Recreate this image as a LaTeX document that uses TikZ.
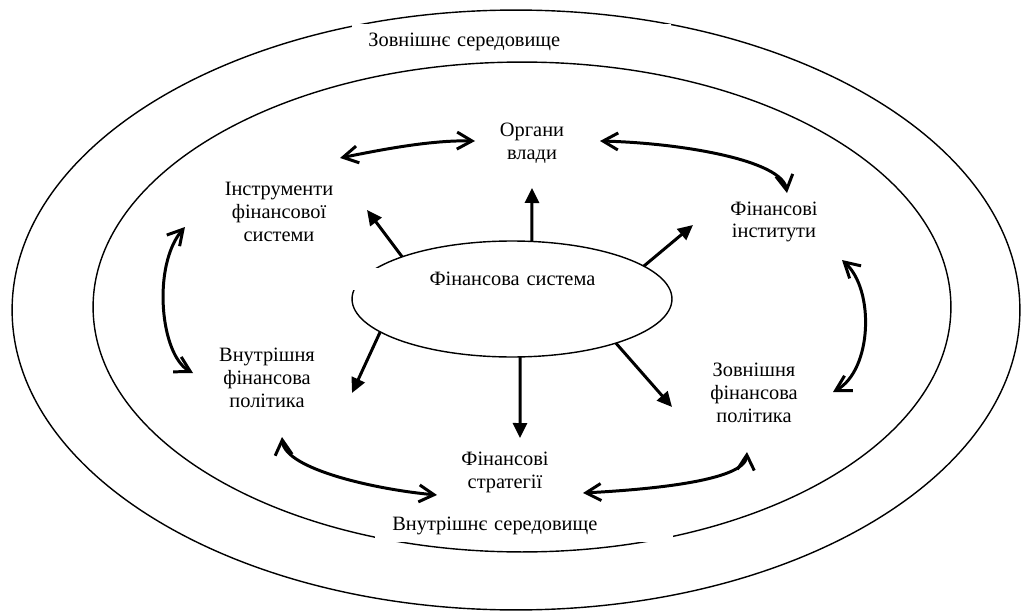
\documentclass[tikz,border=0pt]{standalone}
\usepackage{fontspec}
\setmainfont{Liberation Serif}
\usetikzlibrary{arrows.meta,shapes.geometric}

\newcommand\lblfont{\fontsize{11.6}{13}\selectfont}

\tikzset{
  envell/.style={line width=0.8pt},
  envlbl/.style={fill=white, font=\lblfont, align=left, inner ysep=0pt, anchor=west},
  lbl/.style={font=\lblfont, align=center},
  pushar/.style={line width=1.7pt, -{Triangle[length=0.3cm,width=0.28cm]}},
  linkar/.style={line width=1.7pt,
    {Straight Barb[length=0.3cm,width=0.34cm]}-{Straight Barb[length=0.3cm,width=0.34cm]}},
}

\begin{document}
\begin{tikzpicture}[x=0.02cm, y=-0.02cm]
  \useasboundingbox (0,0) rectangle (1021,615);
  % environments
  \draw[envell] (516,310) ellipse [x radius=10.08cm, y radius=6cm];
  \draw[envell] (522,307) ellipse [x radius=8.58cm, y radius=4.9cm];
  \node[envlbl, inner xsep=0.32cm, text width=5.74cm, minimum height=0.72cm] (outer) at (352,42) {Зовнішнє середовище};
  \node[envlbl, inner xsep=0.34cm, text width=5.28cm, minimum height=0.64cm] (inner) at (375,526) {Внутрішнє середовище};

  % system in the middle
  \node[draw, ellipse, line width=0.8pt, minimum width=6.4cm, minimum height=2.32cm,
        inner sep=0pt, outer sep=0pt] (sys) at (512,299) {};
  \node[envlbl, align=right, inner xsep=0.2cm, text width=4.64cm, minimum height=0.44cm] (syslbl) at (353,279) {Фінансова система};

  \node[lbl] (vlada) at (532,143) {Органи\\влади};
  \node[lbl] (instr) at (279,212) {Інструменти\\фінансової\\системи};
  \node[lbl] (inst) at (774,222) {Фінансові\\інститути};
  \node[lbl] (vnutr) at (267,378) {Внутрішня\\фінансова\\політика};
  \node[lbl] (zovn) at (754,393) {Зовнішня\\фінансова\\політика};
  \node[lbl] (strat) at (505,472) {Фінансові\\стратегії};

  % arrow ends
  \coordinate (t1) at (532,188);
  \coordinate (t2) at (367,210);
  \coordinate (t3) at (693,225);
  \coordinate (t4) at (352,393);
  \coordinate (t5) at (520,438);
  \coordinate (t6) at (672,407);
  \foreach \a/\t in {71/t1,159/t2,14/t3,194/t4,278/t5,337/t6}
    \draw[pushar] (sys.\a) -- (\t);

  \coordinate (a1) at (340,158);
  \coordinate (a2) at (475,141);
  \coordinate (b1) at (600,141);
  \coordinate (b2) at (787,193);
  \coordinate (c1) at (185,227);
  \coordinate (c2) at (193,373);
  \coordinate (d1) at (842,260);
  \coordinate (d2) at (833,392);
  \coordinate (e1) at (282,437);
  \coordinate (e2) at (437,495);
  \coordinate (f1) at (583,493);
  \coordinate (f2) at (747,452);
  \draw[linkar] (a1) .. controls (380,150) and (430,140) .. (a2);
  \draw[linkar] (b1) .. controls (680,143) and (782,160) .. (b2);
  \draw[linkar] (c1) .. controls (152,265) and (160,355) .. (c2);
  \draw[linkar] (d1) .. controls (875,290) and (872,370) .. (d2);
  \draw[linkar] (e1) .. controls (285,470) and (380,490) .. (e2);
  \draw[linkar] (f1) .. controls (640,490) and (745,482) .. (f2);
\end{tikzpicture}
\end{document}
